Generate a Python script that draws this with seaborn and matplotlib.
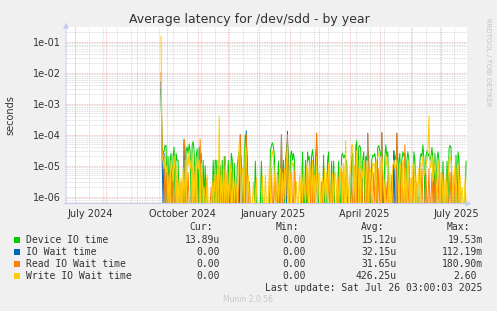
import numpy as np
import pandas as pd
import matplotlib
matplotlib.use("Agg")
import matplotlib.pyplot as plt
import seaborn as sns

# ---------------- data (daily values, microseconds; offsets = days since start) -------------
start_date = "2024-09-25"
n_days = 305

device_days = [0, 1, 2, 3, 4, 5, 7, 9, 10, 12, 13, 15, 16, 17,
               23, 25, 26, 27, 28, 29, 31, 32, 33, 35, 36, 38, 39, 40, 42, 44,
               52, 54, 55, 57, 59, 61, 63, 67, 70, 71, 73,
               76, 77, 78, 79, 80, 83, 84, 85, 86,
               94, 100,
               109, 110, 111, 112, 113, 117, 120, 122, 124, 125, 126, 127, 129, 130, 131, 132, 133,
               141, 144, 146, 147, 148, 150, 151, 152,
               154, 155, 156, 162, 166, 167, 170, 172, 177, 180, 181, 182, 183, 184, 185,
               190, 191, 194, 195, 197, 198, 199, 201, 202, 204, 205, 206, 207, 210, 211, 212, 213, 214,
               216, 217, 218, 219, 220, 223, 224, 225, 226, 232, 233,
               234, 235, 237, 238, 240, 241, 242, 243, 245, 246, 247, 252, 253, 258, 259, 260, 261, 262,
               264, 265, 266, 267, 268, 269, 270, 271, 273, 275, 276, 277, 281, 285, 287, 288, 289,
               294, 296, 297, 304]
device_us = [3000, 40, 25, 30, 45, 45, 20, 15, 25, 20, 40, 25, 15, 15,
             20, 30, 40, 25, 50, 30, 45, 60, 30, 20, 35, 40, 15, 25, 15, 10,
             15, 15, 15, 15, 10, 15, 20, 15, 25, 15, 12,
             10, 20, 30, 25, 15, 20, 100, 60, 15,
             14, 14,
             30, 45, 55, 40, 20, 14, 20, 15, 15, 30, 60, 20, 20, 30, 15, 25, 15,
             28, 15, 28, 15, 20, 20, 33, 14,
             20, 40, 10, 22, 15, 28, 14, 14, 14, 22, 25, 18, 22, 15, 14,
             20, 25, 30, 64, 40, 45, 35, 15, 28, 20, 15, 30, 22, 15, 22, 20, 25, 14,
             39, 45, 30, 20, 40, 15, 47, 20, 28, 30, 15,
             20, 30, 15, 25, 15, 28, 20, 25, 15, 28, 15, 28, 15, 15, 25, 20, 47, 15,
             20, 30, 20, 25, 15, 20, 39, 15, 25, 15, 28, 15, 14, 14, 35, 45, 39,
             22, 28, 15, 14]

iowait_days = [0, 1, 3, 23, 79, 85, 120, 126, 155, 206, 220, 232, 235]
iowait_us = [5000, 25, 25, 70, 100, 135, 100, 130, 110, 110, 115, 30, 110]

read_days = [0, 1, 2, 3, 5, 8, 10, 12, 15, 23, 24, 27, 31, 39, 45, 55, 64, 70,
             79, 80, 85, 110, 113, 120, 125, 126, 130, 145, 148, 150, 155, 167, 181,
             194, 197, 200, 206, 212, 217, 220, 226, 235, 238, 243, 250, 260, 270, 276, 288,
             20, 34, 50, 60, 66, 74, 78, 83, 88, 108, 116, 123, 129, 133, 140, 152, 160, 170,
             177, 184, 190, 199, 204, 209, 214, 224, 230, 240, 246, 255, 264, 267, 273, 280,
             285, 292, 297]
read_us = [10000, 30, 20, 10, 8, 6, 5, 10, 5, 70, 40, 6, 8, 70, 4, 5, 20, 6,
           100, 8, 100, 8, 5, 100, 10, 100, 6, 5, 20, 6, 113, 5, 6,
           47, 8, 5, 113, 6, 8, 120, 5, 113, 6, 47, 4, 8, 6, 5, 6,
           3, 5, 2, 4, 6, 3, 8, 5, 3, 4, 6, 3, 5, 7, 4, 6, 3, 5,
           4, 8, 3, 6, 5, 4, 7, 3, 5, 6, 4, 3, 5, 8, 4, 6,
           3, 5, 4]

write_days = [0, 1, 2, 3, 4, 6, 8, 10, 11, 13, 14, 16, 18,
              22, 24, 26, 27, 28, 30, 32, 34, 36, 37, 38, 40, 41,
              53, 56, 58, 60, 62, 64, 66, 69, 72,
              77, 78, 79, 81, 82, 84, 85, 87,
              95, 101,
              108, 110, 111, 112, 116, 119, 121, 123, 125, 126, 128, 130, 131, 132,
              140, 142, 145, 146, 148, 149, 151, 153,
              155, 157, 163, 165, 167, 171, 173, 176, 179, 180, 182, 184, 186,
              189, 190, 191, 193, 195, 196, 198, 200, 202, 203, 205, 206, 208, 209, 211, 212, 213,
              215, 216, 217, 218, 220, 221, 224, 225, 226, 231, 232, 233,
              234, 235, 236, 238, 239, 241, 242, 244, 246, 247, 251, 252, 254, 257, 259, 260, 261, 263,
              264, 265, 266, 267, 268, 269, 270, 272, 273, 274, 276, 277, 280, 284, 287, 288, 289,
              290, 293, 295, 296, 298,
              5, 12, 20, 29, 43, 46, 51, 68, 74, 75, 92, 104, 113, 118, 135, 138, 143, 158,
              161, 168, 174, 178, 188, 201, 222, 228, 249, 256, 262, 271, 279, 282, 286, 292,
              300, 303]
write_us = [150000, 20, 15, 8, 20, 10, 5, 15, 8, 20, 6, 10, 4,
            8, 15, 20, 10, 30, 15, 25, 10, 20, 8, 15, 12, 5,
            5, 8, 390, 5, 8, 10, 6, 12, 8,
            10, 60, 15, 8, 6, 40, 30, 5,
            4, 5,
            10, 20, 30, 15, 5, 8, 6, 8, 15, 40, 8, 15, 10, 12,
            10, 6, 8, 12, 10, 6, 15, 5,
            20, 5, 8, 6, 12, 6, 5, 6, 8, 10, 12, 64, 5,
            8, 47, 47, 10, 30, 15, 20, 8, 15, 10, 8, 15, 5, 8, 12, 10, 12,
            15, 20, 25, 15, 20, 8, 25, 10, 12, 10, 15, 8,
            10, 15, 6, 12, 8, 15, 10, 8, 15, 6, 12, 10, 5, 8, 12, 10, 20, 6,
            10, 15, 30, 400, 8, 10, 20, 6, 12, 5, 15, 8, 5, 5, 15, 20, 15,
            5, 10, 8, 12, 5,
            6, 3, 4, 8, 2, 5, 3, 6, 4, 2, 3, 5, 4, 7, 3, 5, 2, 6,
            4, 3, 6, 2, 5, 4, 3, 6, 4, 2, 5, 3, 6, 4, 3, 5,
            2, 4]

series_names = ["Device IO time", "IO Wait time", "Read IO Wait time", "Write IO Wait time"]
series_colors = ["#00CC00", "#0066B3", "#FF8000", "#FFCC00"]
cur_vals = ["13.89u", "0.00", "0.00", "0.00"]
min_vals = ["0.00", "0.00", "0.00", "0.00"]
avg_vals = ["15.12u", "32.15u", "31.65u", "426.25u"]
max_vals = ["19.53m", "112.19m", "180.90m", "2.60"]

# ---------------- figure ----------------
W, H = 497, 311
fig = plt.figure(figsize=(W / 100, H / 100), dpi=100, facecolor="#F0F0F0")
left_px, right_px, top_px, bot_px = 65, 467, 27, 203.5
ax = fig.add_axes([left_px / W, (H - bot_px) / H, (right_px - left_px) / W, (bot_px - top_px) / H])
ax.set_facecolor("white")

ymin, ymax = 10 ** -6.219, 10 ** -0.526
xmin = pd.Timestamp("2024-06-21 07:00")
xmax = pd.Timestamp("2025-07-26 22:00")

dates = pd.date_range(start_date, periods=n_days, freq="D")


def full_series(days, vals):
    arr = np.full(n_days, ymin)
    for d, v in zip(days, vals):
        arr[d] = v * 1e-6
    return arr


frames = []
for name, days, vals in zip(series_names,
                            [device_days, iowait_days, read_days, write_days],
                            [device_us, iowait_us, read_us, write_us]):
    frames.append(pd.DataFrame({"date": dates, "value": full_series(days, vals), "series": name}))
df = pd.concat(frames, ignore_index=True)

for name, col in zip(series_names, series_colors):
    sub = df[df["series"] == name]
    sns.lineplot(data=sub, x="date", y="value", ax=ax, color=col, linewidth=0.72,
                 estimator=None, legend=False, zorder=3)

ax.set_yscale("log")
ax.set_ylim(ymin, ymax)
ax.set_xlim(xmin, xmax)

# grid
minor_col, major_col = "#D2D2D2", "#F4B0B0"
dot = (0, (1, 1))
for e in range(-7, 0):
    for k in range(2, 10):
        v = k * 10.0 ** e
        if ymin < v < ymax:
            ax.axhline(v, color=minor_col, lw=0.6, ls=dot, zorder=1)
wk = pd.Timestamp("2024-06-17")
while wk < xmax:
    if wk > xmin:
        ax.axvline(wk, color=minor_col, lw=0.6, ls=dot, zorder=1)
    wk += pd.Timedelta(days=14)
for e in range(-6, 0):
    ax.axhline(10.0 ** e, color=major_col, lw=0.6, ls=dot, zorder=2)
for m in pd.date_range("2024-07-01", "2025-07-01", freq="MS"):
    ax.axvline(m, color=major_col, lw=0.6, ls=dot, zorder=2)

# ticks
ax.set_yticks([10.0 ** e for e in range(-6, 0)])
ax.set_yticklabels(["1e-06", "1e-05", "1e-04", "1e-03", "1e-02", "1e-01"])
ax.yaxis.set_minor_locator(matplotlib.ticker.NullLocator())
label_dates = [pd.Timestamp(s) for s in ["2024-07-16", "2024-10-16", "2025-01-15", "2025-04-15", "2025-07-16"]]
ax.set_xticks(label_dates)
ax.set_xticklabels(["July 2024", "October 2024", "January 2025", "April 2025", "July 2025"])
ax.tick_params(axis="both", length=0, labelsize=7, colors="#333333", pad=3)
ax.tick_params(axis="x", pad=4)
ax.set_xlabel("")
ax.set_ylabel("")
for s in ax.spines.values():
    s.set_visible(False)

# axis arrows
axis_col = "#C8CCF0"
fig.add_artist(matplotlib.patches.FancyArrowPatch(
    (66 / W, (H - 207) / H), (66 / W, (H - 20) / H), transform=fig.transFigure,
    arrowstyle="-|>,head_length=3,head_width=1.6", color=axis_col, lw=0.8, mutation_scale=1))
fig.add_artist(matplotlib.patches.FancyArrowPatch(
    (62 / W, (H - 203.5) / H), (474 / W, (H - 203.5) / H), transform=fig.transFigure,
    arrowstyle="-|>,head_length=3,head_width=1.6", color=axis_col, lw=0.8, mutation_scale=1))

# texts
fig.text(249 / W, (H - 19) / H, "Average latency for /dev/sdd - by year", ha="center", va="center",
         fontsize=9, color="#333333")
fig.text(10 / W, (H - 115) / H, "seconds", rotation=90, ha="center", va="center", fontsize=7, color="#333333")
fig.text(488 / W, (H - 18) / H, "RRDTOOL / TOBI OETIKER", rotation=270, ha="center", va="top",
         fontsize=5, color="#C4C4C4")

mono = "DejaVu Sans Mono"
fs = 7
tc = "#333333"
hy = H - 227.3
fig.text(213 / W, hy / H, "Cur:", ha="right", va="center", family=mono, fontsize=fs, color=tc)
fig.text(299 / W, hy / H, "Min:", ha="right", va="center", family=mono, fontsize=fs, color=tc)
fig.text(384 / W, hy / H, "Avg:", ha="right", va="center", family=mono, fontsize=fs, color=tc)
fig.text(470 / W, hy / H, "Max:", ha="right", va="center", family=mono, fontsize=fs, color=tc)
rows_y = [240, 251.8, 263.8, 275.7]
for i, (name, col) in enumerate(zip(series_names, series_colors)):
    yy = (H - rows_y[i]) / H
    fig.add_artist(matplotlib.patches.Rectangle((14 / W, (H - rows_y[i] - 3) / H), 6 / W, 6 / H,
                                                transform=fig.transFigure, color=col, lw=0))
    fig.text(26 / W, yy, name, ha="left", va="center", family=mono, fontsize=fs, color=tc)
    fig.text(220 / W, yy, cur_vals[i], ha="right", va="center", family=mono, fontsize=fs, color=tc)
    fig.text(305.7 / W, yy, min_vals[i], ha="right", va="center", family=mono, fontsize=fs, color=tc)
    fig.text(396.7 / W, yy, avg_vals[i], ha="right", va="center", family=mono, fontsize=fs, color=tc)
    mx = max_vals[i]
    fig.text((482.7 if mx[-1].isalpha() else 476.7) / W, yy, mx, ha="right", va="center",
             family=mono, fontsize=fs, color=tc)
fig.text(482.7 / W, (H - 287.7) / H, "Last update: Sat Jul 26 03:00:03 2025", ha="right", va="center",
         family=mono, fontsize=fs, color=tc)
fig.text(248 / W, (H - 300) / H, "Munin 2.0.56", ha="center", va="center", fontsize=5.5, color="#C8C8C8")

fig.savefig("out.png", dpi=100, facecolor=fig.get_facecolor())
